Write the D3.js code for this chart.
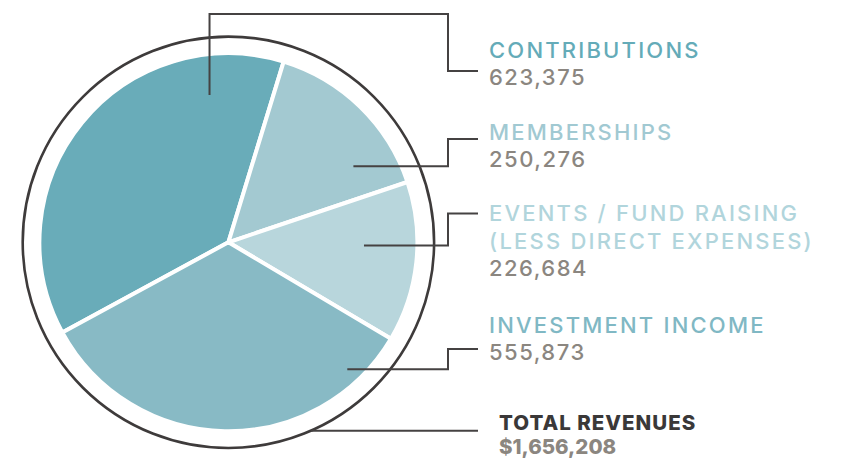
<!DOCTYPE html>
<html><head><meta charset="utf-8">
<script src="https://cdn.jsdelivr.net/npm/d3@7"></script>
<style>html,body{margin:0;padding:0;background:#fff;overflow:hidden}</style>
</head><body><svg id="c" width="853" height="458"></svg>
<script>
// ---- data ----
const categories = ["CONTRIBUTIONS", "MEMBERSHIPS", "EVENTS / FUND RAISING|(LESS DIRECT EXPENSES)", "INVESTMENT INCOME"];
const values = [623375, 250276, 226684, 555873];
const valueLabels = ["623,375", "250,276", "226,684", "555,873"];
const totalLabel = "TOTAL REVENUES";
const totalValue = "$1,656,208";

// ---- style / layout ----
const colors = ["#69acb9", "#a3c9d1", "#b8d6dc", "#88bac5"];
const textColors = ["#64abb8", "#a1c9d2", "#b1d5dc", "#80b8c4"];
const numColor = "#8b8680";
const lineColor = "#454242";
const cx = 228.4, cy = 242.3, R = 189, ringR = 205.7;
const startDeg = 17 - 360 * values[0] / d3.sum(values);
const labelX = 489, elbowX = 448, tipX = 478;
const font = "Inter, 'Open Sans', sans-serif";
// leader anchor (polar around centre: deg clockwise from 12 o'clock, radius), label baseline, elbow y
const leaders = [
  {a: -7.3, r: 148.5, base: 58.3, elbowY: 71, vertical: true},
  {a: 58.7, r: 146.3, base: 140, elbowY: 139},
  {a: 91.3, r: 135.6, base: 220.5, elbowY: 213.5},
  {a: 136.9, r: 174.0, base: 333, elbowY: 349}
];

const svg = d3.select("#c");
const g = svg.append("g").attr("transform", `translate(${cx},${cy})`);
const pie = d3.pie().sort(null).value(d => d)
  .startAngle(startDeg * Math.PI / 180).endAngle(startDeg * Math.PI / 180 + 2 * Math.PI);
const arc = d3.arc().innerRadius(0).outerRadius(R);
g.selectAll("path.s").data(pie(values)).join("path").attr("class", "s")
  .attr("d", arc).attr("fill", (d, i) => colors[i])
  .attr("stroke", "#fff").attr("stroke-width", 4).attr("stroke-linejoin", "round");
g.append("circle").attr("r", ringR).attr("fill", "none").attr("stroke", "#3e3b3b").attr("stroke-width", 2.6);

const pol = (a, r) => [cx + r * Math.sin(a * Math.PI / 180), cy - r * Math.cos(a * Math.PI / 180)];
const lines = svg.append("g").attr("fill", "none").attr("stroke", lineColor).attr("stroke-width", 2);
leaders.forEach((L, i) => {
  const [x0, y0] = pol(L.a, L.r);
  let pts;
  if (L.vertical) pts = [[x0, y0], [x0, 14], [elbowX, 14], [elbowX, L.elbowY], [tipX, L.elbowY]];
  else pts = [[x0, y0], [elbowX, y0], [elbowX, L.elbowY], [tipX, L.elbowY]];
  lines.append("path").attr("d", d3.line()(pts));
});
// total leader from ring
const ty = 430.7;
const tx0 = cx + Math.sqrt(ringR * ringR - (ty - cy) * (ty - cy));
lines.append("path").attr("d", d3.line()([[tx0, ty], [tipX, ty]]));

const fs = 22, lh = 28;
categories.forEach((c, i) => {
  const parts = c.split("|");
  const t = svg.append("g");
  parts.forEach((p, j) => {
    t.append("text").attr("x", labelX).attr("y", leaders[i].base + j * lh)
      .attr("font-family", font).attr("font-size", fs).attr("font-weight", 500)
      .attr("letter-spacing", 2.2).attr("fill", textColors[i]).text(p);
  });
  t.append("text").attr("x", labelX).attr("y", leaders[i].base + parts.length * lh - 1)
    .attr("font-family", font).attr("font-size", fs).attr("font-weight", 500)
    .attr("letter-spacing", 1.5).attr("fill", numColor).text(valueLabels[i]);
});
svg.append("text").attr("x", 499).attr("y", 430).attr("font-family", font).attr("font-size", 20.5)
  .attr("font-weight", 800).attr("letter-spacing", 1).attr("fill", "#3a3838").text(totalLabel);
svg.append("text").attr("x", 499).attr("y", 453.5).attr("font-family", font).attr("font-size", 20.5)
  .attr("font-weight", 800).attr("fill", numColor).text(totalValue);
</script></body></html>
